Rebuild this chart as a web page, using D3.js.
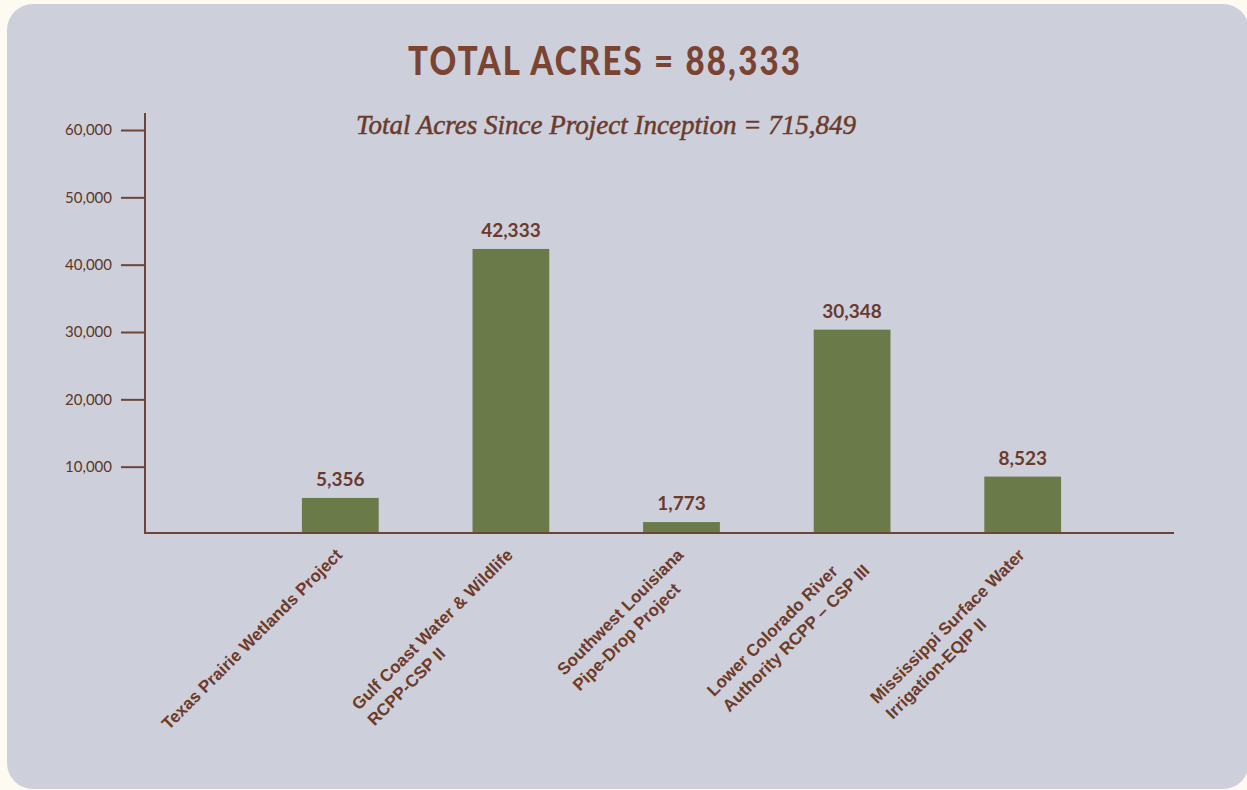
<!DOCTYPE html>
<html>
<head>
<meta charset="utf-8">
<script src="https://cdn.jsdelivr.net/npm/d3@7"></script>
<style>
  html, body { margin: 0; padding: 0; background: #fdfaf2; }
  svg { display: block; }
</style>
</head>
<body>
<div id="chart"></div>
<script>
// chart data
var projects = [
    ["Texas Prairie Wetlands Project"],
    ["Gulf Coast Water & Wildlife", "RCPP-CSP II"],
    ["Southwest Louisiana", "Pipe-Drop Project"],
    ["Lower Colorado River", "Authority RCPP \u2013 CSP III"],
    ["Mississippi Surface Water", "Irrigation-EQIP II"]
];
var acres = [5356, 42333, 1773, 30348, 8523];
var yTicks = [10000, 20000, 30000, 40000, 50000, 60000];
var titleText = "TOTAL ACRES = 88,333";
var subtitleText = "Total Acres Since Project Inception = 715,849";

var brown = "#6b3a2c",
    axisBrown = "#6d4536",
    green = "#6a7a48";

var width = 1247, height = 790;

var svg = d3.select("#chart")
    .append("svg")
    .attr("width", width)
    .attr("height", height);

// panel
svg.append("rect")
    .attr("x", 7).attr("y", 4)
    .attr("width", 1242).attr("height", 785)
    .attr("rx", 26).attr("ry", 26)
    .attr("fill", "#cdd0da");

// title (tall, letter-spaced caps) + subtitle
svg.append("g")
    .attr("transform", "translate(604,75) scale(1,1.18)")
    .append("text")
    .attr("text-anchor", "middle")
    .attr("font-family", "Lato, sans-serif")
    .attr("font-weight", 900)
    .attr("font-size", 33)
    .attr("textLength", 392)
    .attr("lengthAdjust", "spacing")
    .attr("fill", "#7a4332")
    .text(titleText);

svg.append("text")
    .attr("x", 606).attr("y", 134)
    .attr("text-anchor", "middle")
    .attr("font-family", "'Liberation Serif', serif")
    .attr("font-style", "italic")
    .attr("font-size", 27)
    .attr("stroke", brown)
    .attr("stroke-width", 0.5)
    .attr("fill", brown)
    .text(subtitleText);

// scales
var y = d3.scaleLinear()
    .domain([0, 60000])
    .range([534, 130]);

var x = d3.scaleBand()
    .domain(d3.range(acres.length))
    .range([255, 1108])
    .paddingInner(0.55)
    .paddingOuter(0.275);

// Y axis
var yAxis = svg.append("g")
    .attr("transform", "translate(145,0)")
    .call(d3.axisLeft(y)
        .tickValues(yTicks)
        .tickSize(24)
        .tickPadding(9)
        .tickFormat(d3.format(",")));
yAxis.select(".domain").remove();
yAxis.selectAll(".tick line")
    .attr("stroke", axisBrown)
    .attr("stroke-width", 2);
yAxis.selectAll(".tick text")
    .attr("font-family", "Lato, sans-serif")
    .attr("font-size", 15)
    .attr("fill", "#5c3626");

svg.append("line")
    .attr("x1", 145).attr("x2", 145)
    .attr("y1", 113).attr("y2", 533)
    .attr("stroke", axisBrown)
    .attr("stroke-width", 2);

// bars
svg.selectAll("rect.bar")
    .data(acres)
    .enter()
    .append("rect")
    .attr("class", "bar")
    .attr("x", (d, i) => x(i))
    .attr("y", d => y(d))
    .attr("width", x.bandwidth())
    .attr("height", d => y(0) - y(d))
    .attr("fill", green);

// X baseline
svg.append("line")
    .attr("x1", 144).attr("x2", 1174)
    .attr("y1", 533).attr("y2", 533)
    .attr("stroke", axisBrown)
    .attr("stroke-width", 2);

// value labels
svg.selectAll("text.value")
    .data(acres)
    .enter()
    .append("text")
    .attr("class", "value")
    .attr("x", (d, i) => x(i) + x.bandwidth() / 2)
    .attr("y", d => y(d) - 12)
    .attr("text-anchor", "middle")
    .attr("font-family", "Lato, sans-serif")
    .attr("font-weight", 700)
    .attr("font-size", 19)
    .attr("fill", brown)
    .text(d => d3.format(",")(d));

// category labels, rotated, left aligned lines, block ends at the bar centre
var lineH = 22;
projects.forEach(function (lines, i) {
    var cx = x(i) + x.bandwidth() / 2;
    var g = svg.append("g")
        .attr("transform", "translate(" + (cx + 3) + ",556) rotate(-45)");
    var texts = g.selectAll("text")
        .data(lines)
        .enter()
        .append("text")
        .attr("y", (d, j) => j * lineH)
        .attr("font-family", "'Liberation Sans', Arial, sans-serif")
        .attr("font-weight", 700)
        .attr("font-size", 17)
        .attr("fill", "#6e3a2a")
        .text(d => d);
    var maxW = d3.max(texts.nodes(), n => n.getComputedTextLength());
    texts.attr("x", -maxW);
});
</script>
</body>
</html>
